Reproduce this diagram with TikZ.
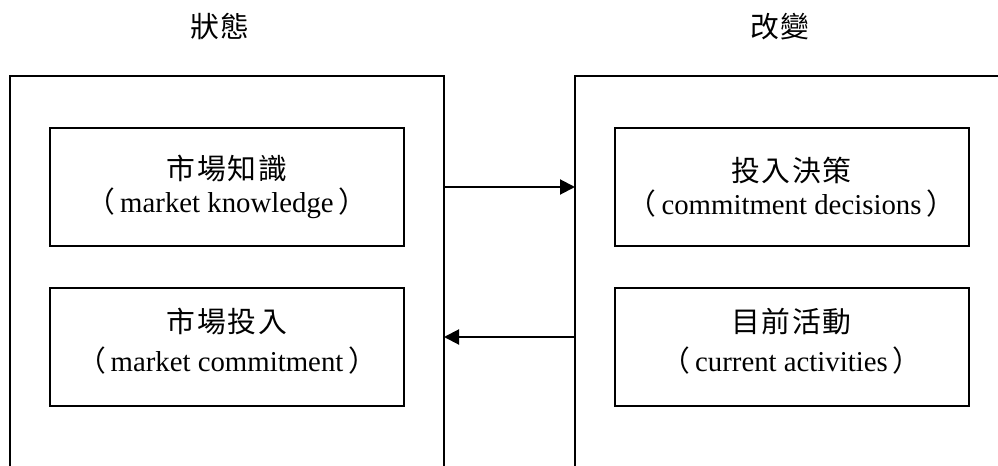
\documentclass[tikz,border=0pt]{standalone}
\usepackage{fontspec}
\setmainfont{Liberation Serif}
\newfontfamily\cjk[LetterSpace=6]{Noto Sans CJK TC}
\usetikzlibrary{arrows.meta}

\begin{document}
\begin{tikzpicture}[x=0.5pt,y=-0.5pt,
  outerframe/.style={draw, line width=1.15pt, inner sep=0pt, outer sep=0pt,
    minimum height=202pt},
  itembox/.style={draw, line width=1pt, inner sep=0pt, outer sep=0pt,
    minimum width=177pt, minimum height=59pt, align=center,
    font=\fontsize{14.4}{16.5}\selectfont},
  itemtext/.style={inner sep=0pt, align=center,
    font=\fontsize{14.4}{16.5}\selectfont},
  heading/.style={font=\cjk\fontsize{14.4}{16.5}\selectfont, inner sep=0pt},
  flow/.style={line width=1pt, -{Triangle[length=7.5pt,width=7.5pt]}}]

\useasboundingbox (0,0) rectangle (998,466);
\clip (0,0) rectangle (998,466);

% column headings
\node[heading] (hstate)  at (220,27) {狀態};
\node[heading] (hchange) at (780,27) {改變};

% the two open-bottom frames
\node[outerframe, minimum width=217pt]   (L) at (227,278) {};
\node[outerframe, minimum width=222.5pt] (R) at (797.5,278) {};

% state aspects
\node[itembox] (kn) at (227,187)
  {{\cjk 市場知識}\\{\cjk （}\,market knowledge\,{\cjk ）}};
\node[itembox] (mc) at (227,347) {};
\node[itemtext] (mctext) at (227,341)
  {{\cjk 市場投入}\\[3pt]{\cjk （}\,market commitment\,{\cjk ）}};

% change aspects
\node[itembox] (cd) at (791.5,187)
  {{\cjk 投入決策}\\{\cjk （}\,commitment decisions\,{\cjk ）}};
\node[itembox] (ca) at (791.5,347) {};
\node[itemtext] (catext) at (791.5,341)
  {{\cjk 目前活動}\\[3pt]{\cjk （}\,current activities\,{\cjk ）}};

% links between the frames
\draw[flow] (kn.east -| L.east) -- (kn.east -| R.west);
\draw[flow] ([yshift=5pt]mc.east -| R.west) -- ([yshift=5pt]mc.east -| L.east);
\end{tikzpicture}
\end{document}
